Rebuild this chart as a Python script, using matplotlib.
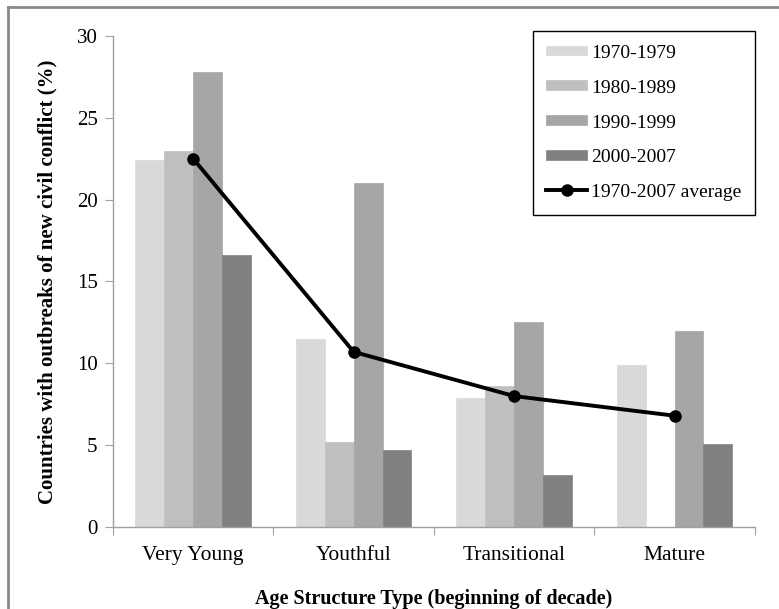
import matplotlib
matplotlib.use("Agg")
import matplotlib.pyplot as plt
import numpy as np
from matplotlib.lines import Line2D

categories = ["Very Young", "Youthful", "Transitional", "Mature"]
series_names = ["1970-1979", "1980-1989", "1990-1999", "2000-2007"]
v1970 = [22.4, 11.5, 7.9, 9.9]
v1980 = [23.0, 5.2, 8.6, 0.0]
v1990 = [27.8, 21.0, 12.5, 12.0]
v2000 = [16.6, 4.7, 3.2, 5.1]
average = [22.5, 10.7, 8.0, 6.8]
avg_name = "1970-2007 average"
yticks = [0, 5, 10, 15, 20, 25, 30]

colors = ["#d9d9d9", "#bfbfbf", "#a6a6a6", "#808080"]

plt.rcParams['font.family'] = ['Liberation Serif', 'DejaVu Serif']

fig = plt.figure(figsize=(7.79, 6.09), dpi=100)
ax = fig.add_axes([0.145, 0.1346, 0.824, 0.8064])

x = np.arange(len(categories))
w = 0.18
offsets = [-1.5 * w, -0.5 * w, 0.5 * w, 1.5 * w]
handles = []
for vals, off, c, name in zip([v1970, v1980, v1990, v2000], offsets, colors, series_names):
    b = ax.bar(x + off, vals, width=w, color=c, edgecolor=c, linewidth=0.5, label=name, zorder=2)
    handles.append(b)

ln, = ax.plot(x, average, color="black", linewidth=2.8, marker="o", markersize=8,
              label=avg_name, zorder=3)
handles.append(ln)

ax.set_xlim(-0.5, 3.5)
ax.set_ylim(0, 30)
ax.set_yticks(yticks)
ax.set_xticks(np.arange(-0.5, 4.0, 1.0))
ax.set_xticklabels([])
ax.set_xticks(x, minor=True)
ax.set_xticklabels(categories, minor=True, fontsize=15.5)
ax.tick_params(axis='x', which='minor', length=0, pad=14)
ax.tick_params(axis='x', which='major', length=6, color="#a0a0a0", direction='out')
ax.tick_params(axis='y', length=6, color="#a0a0a0", labelsize=15, pad=5)

for s in ["top", "right"]:
    ax.spines[s].set_visible(False)
for s in ["left", "bottom"]:
    ax.spines[s].set_color("#a0a0a0")
    ax.spines[s].set_linewidth(1.0)

ax.set_ylabel("Countries with outbreaks of new civil conflict (%)", fontsize=15,
              fontweight="bold", labelpad=14)
ax.set_xlabel("Age Structure Type (beginning of decade)", fontsize=14.5,
              fontweight="bold", labelpad=17)

leg = ax.legend(handles=handles, labels=series_names + [avg_name],
                loc="upper right", bbox_to_anchor=(1.0, 1.01), borderaxespad=0,
                fancybox=False, edgecolor="black", fontsize=14, handlelength=2.1,
                labelspacing=0.88, handletextpad=0.2, borderpad=0.7, framealpha=1)
leg.get_frame().set_linewidth(1.0)
for h in leg.legend_handles[:4]:
    h.set_height(7)
    h.set_y(2)

# outer gray frame (left and top)
fig.add_artist(Line2D([0.010, 0.010], [0, 0.989], transform=fig.transFigure,
                      color="#888888", linewidth=2))
fig.add_artist(Line2D([0.010, 1.0], [0.989, 0.989], transform=fig.transFigure,
                      color="#888888", linewidth=2))

fig.savefig("out.png", dpi=100)
